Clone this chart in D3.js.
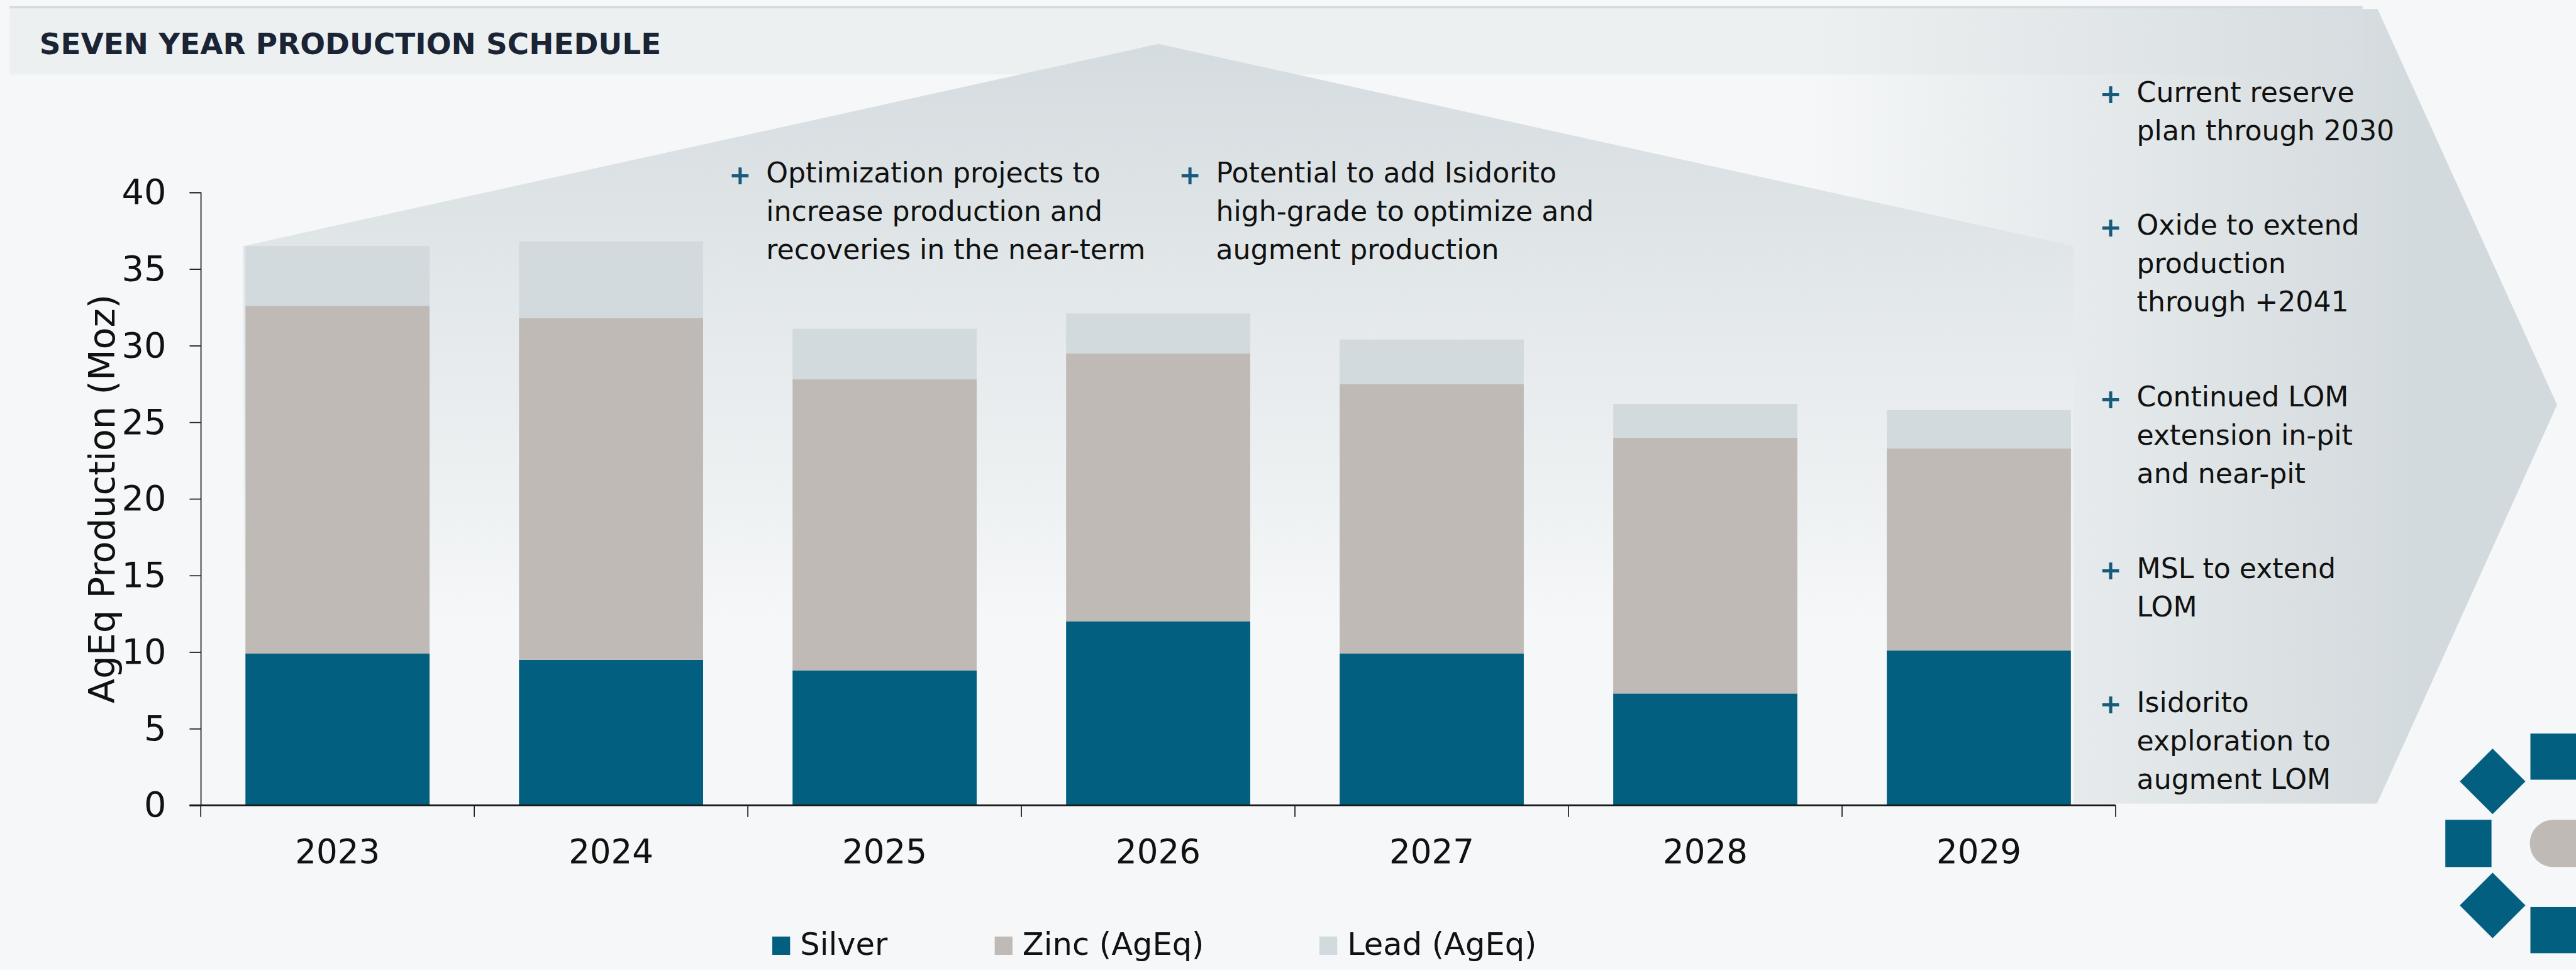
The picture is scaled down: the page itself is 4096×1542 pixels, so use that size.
<!DOCTYPE html>
<html>
<head>
<meta charset="utf-8">
<script src="https://cdn.jsdelivr.net/npm/d3@7"></script>
<style>
  html, body { margin: 0; padding: 0; background: #f5f7f8; overflow: hidden; }
  text { font-family: "DejaVu Sans", sans-serif; }
</style>
</head>
<body>
<div id="chart"></div>
<script>
// data
const years = ["2023", "2024", "2025", "2026", "2027", "2028", "2029"];
const silver = [9.9, 9.5, 8.8, 12.0, 9.9, 7.3, 10.1];
const zinc = [22.7, 22.3, 19.0, 17.5, 17.6, 16.7, 13.2];
const lead = [3.9, 5.0, 3.3, 2.6, 2.9, 2.2, 2.5];
const seriesKeys = ["silver", "zinc", "lead"];
const seriesNames = ["Silver", "Zinc (AgEq)", "Lead (AgEq)"];
const seriesColors = ["#035f80", "#bfbab5", "#d2dadd"];
const yTicks = [0, 5, 10, 15, 20, 25, 30, 35, 40];

const title = "SEVEN YEAR PRODUCTION SCHEDULE";
const yTitle = "AgEq Production (Moz)";
const notesTop = [
  ["Optimization projects to", "increase production and", "recoveries in the near-term"],
  ["Potential to add Isidorito", "high-grade to optimize and", "augment production"]
];
const notesRight = [
  ["Current reserve", "plan through 2030"],
  ["Oxide to extend", "production", "through +2041"],
  ["Continued LOM", "extension in-pit", "and near-pit"],
  ["MSL to extend", "LOM"],
  ["Isidorito", "exploration to", "augment LOM"]
];

// drawing is done in the reference's pixel space, then scaled down
const W = 4633, H = 1744;
const k = 4096 / W;
const bg = "#f5f7f8";

const svg = d3.select("#chart").append("svg")
  .attr("width", 4096)
  .attr("height", 1542)
  .style("display", "block");

const defs = svg.append("defs");

const houseGrad = defs.append("linearGradient")
  .attr("id", "houseGrad")
  .attr("gradientUnits", "userSpaceOnUse")
  .attr("x1", 0).attr("y1", 79).attr("x2", 0).attr("y2", 1120);
houseGrad.append("stop").attr("offset", 0).attr("stop-color", "#d5dcdf");
houseGrad.append("stop").attr("offset", 1).attr("stop-color", bg);

const arrowGrad = defs.append("linearGradient")
  .attr("id", "arrowGrad")
  .attr("gradientUnits", "userSpaceOnUse")
  .attr("x1", 3250).attr("y1", 0).attr("x2", 4350).attr("y2", 0);
arrowGrad.append("stop").attr("offset", 0).attr("stop-color", bg);
arrowGrad.append("stop").attr("offset", 1).attr("stop-color", "#d3dadd");

const titleGrad = defs.append("linearGradient")
  .attr("id", "titleGrad")
  .attr("gradientUnits", "userSpaceOnUse")
  .attr("x1", 3250).attr("y1", 0).attr("x2", 4250).attr("y2", 0);
titleGrad.append("stop").attr("offset", 0).attr("stop-color", "#edf0f1");
titleGrad.append("stop").attr("offset", 1).attr("stop-color", "#d7dde0");

const g = svg.append("g").attr("transform", `scale(${k})`);

g.append("rect").attr("width", W).attr("height", H).attr("fill", bg);

// scales
const plot = { left: 361, right: 3805, top: 346, bottom: 1448 };

const x = d3.scaleBand()
  .domain(years)
  .range([plot.left, plot.right])
  .paddingInner(0.327)
  .paddingOuter(0.1635);

const y = d3.scaleLinear()
  .domain([0, 40])
  .range([plot.bottom, plot.top]);

// right-hand chevron
g.append("path")
  .attr("d", "M3250,16 L4276,16 L4599,728 L4275,1445 L3250,1445 Z")
  .attr("fill", "url(#arrowGrad)");

// title band
g.append("rect")
  .attr("x", 17).attr("y", 12).attr("width", 4249 - 17).attr("height", 122)
  .attr("fill", "url(#titleGrad)");
g.append("rect")
  .attr("x", 17).attr("y", 11).attr("width", 4249 - 17).attr("height", 4)
  .attr("fill", "#d3dadd");
g.append("text")
  .attr("x", 71).attr("y", 97)
  .attr("font-size", 53)
  .attr("font-weight", "bold")
  .attr("fill", "#1b2435")
  .text(title);

// house shape behind the bars
const houseLeft = x(years[0]) - 4;
const houseRight = x(years[years.length - 1]) + x.bandwidth() + 5;
g.append("path")
  .attr("d", d3.line()([
    [houseLeft, y(36.5)], [(houseLeft + houseRight) / 2, 79], [houseRight, y(36.5)],
    [houseRight, plot.bottom], [houseLeft, plot.bottom]
  ]) + "Z")
  .attr("fill", "url(#houseGrad)");

// stacked bars
const rows = years.map((yr, i) => ({ year: yr, silver: silver[i], zinc: zinc[i], lead: lead[i] }));
const stacked = d3.stack().keys(seriesKeys)(rows);

g.append("g").selectAll("g")
  .data(stacked)
  .join("g")
  .attr("fill", (d, i) => seriesColors[i])
  .selectAll("rect")
  .data(d => d)
  .join("rect")
  .attr("x", d => x(d.data.year))
  .attr("width", x.bandwidth())
  .attr("y", d => y(d[1]))
  .attr("height", d => y(d[0]) - y(d[1]));

// y axis
const yAxis = g.append("g")
  .attr("transform", `translate(${plot.left},0)`)
  .call(d3.axisLeft(y).tickValues(yTicks).tickSize(20).tickPadding(42));
yAxis.select(".domain").attr("stroke", "#222").attr("stroke-width", 2);
yAxis.selectAll(".tick line").attr("stroke", "#222").attr("stroke-width", 2);
yAxis.selectAll(".tick text")
  .attr("font-size", 63)
  .attr("font-family", "DejaVu Sans")
  .attr("fill", "#111");

g.append("text")
  .attr("transform", `translate(206,${(plot.top + plot.bottom) / 2}) rotate(-90)`)
  .attr("text-anchor", "middle")
  .attr("font-size", 65)
  .attr("fill", "#111")
  .text(yTitle);

// x axis: ticks sit on band boundaries, labels in band centres
const step = x.step();
const bounds = d3.range(years.length + 1).map(i => plot.left + i * step);
g.append("line")
  .attr("x1", plot.left - 20).attr("x2", plot.right)
  .attr("y1", plot.bottom).attr("y2", plot.bottom)
  .attr("stroke", "#1a1a1a").attr("stroke-width", 3);
g.append("g").selectAll("line")
  .data(bounds)
  .join("line")
  .attr("x1", d => d).attr("x2", d => d)
  .attr("y1", plot.bottom).attr("y2", plot.bottom + 21)
  .attr("stroke", "#222").attr("stroke-width", 2);
g.append("g").selectAll("text")
  .data(years)
  .join("text")
  .attr("x", d => x(d) + x.bandwidth() / 2)
  .attr("y", 1552)
  .attr("text-anchor", "middle")
  .attr("font-size", 60)
  .attr("fill", "#111")
  .text(d => d);

// legend
const legendX = [1389, 1789, 2373];
const legend = g.append("g").selectAll("g")
  .data(seriesNames)
  .join("g")
  .attr("transform", (d, i) => `translate(${legendX[i]},1684)`);
legend.append("rect")
  .attr("width", 32).attr("height", 33)
  .attr("fill", (d, i) => seriesColors[i]);
legend.append("text")
  .attr("x", 50).attr("y", 33)
  .attr("font-size", 56)
  .attr("fill", "#111")
  .text(d => d);

// bullet notes
function notes(parent, lines, tx, baseline) {
  const grp = parent.append("g");
  grp.append("text")
    .attr("x", tx - 47).attr("y", baseline + 3)
    .attr("text-anchor", "middle")
    .attr("font-size", 48)
    .attr("font-weight", "bold")
    .attr("fill", "#175b7c")
    .text("+");
  grp.selectAll("text.line")
    .data(lines)
    .join("text")
    .attr("class", "line")
    .attr("x", tx)
    .attr("y", (d, i) => baseline + i * 69)
    .attr("font-size", 50)
    .attr("fill", "#111")
    .text(d => d);
}

notes(g, notesTop[0], 1378, 328);
notes(g, notesTop[1], 2187, 328);
const rightBaselines = [183, 422, 731, 1039, 1280];
notesRight.forEach((lines, i) => notes(g, lines, 3843, rightBaselines[i]));

// logo, bottom right
const logo = g.append("g").attr("fill", "#035f80");
logo.append("rect").attr("x", 4551).attr("y", 1319).attr("width", 120).attr("height", 83);
logo.append("rect").attr("x", 4398).attr("y", 1474).attr("width", 83).attr("height", 85);
logo.append("rect").attr("x", 4551).attr("y", 1631).attr("width", 120).attr("height", 83);
logo.append("path").attr("d", "M4483,1346 L4542,1405 L4483,1464 L4424,1405 Z");
logo.append("path").attr("d", "M4483,1569 L4542,1628 L4483,1687 L4424,1628 Z");
g.append("rect")
  .attr("x", 4550).attr("y", 1474).attr("width", 160).attr("height", 85)
  .attr("rx", 42).attr("fill", "#bfbab5");
</script>
</body>
</html>
